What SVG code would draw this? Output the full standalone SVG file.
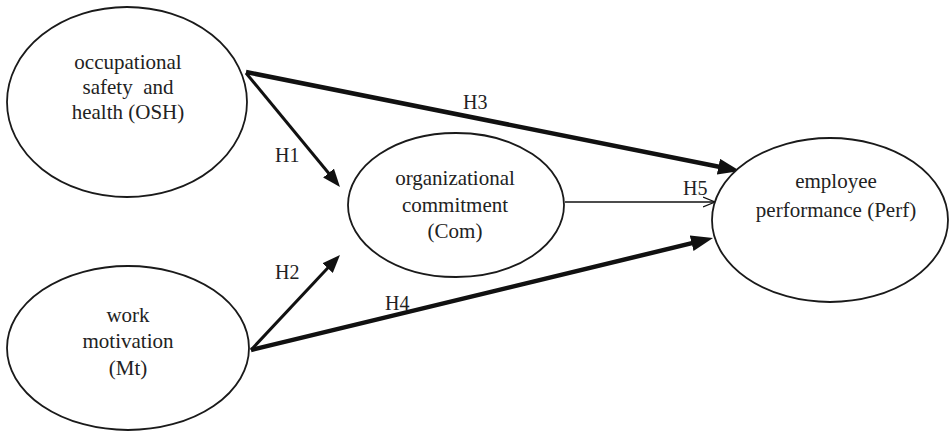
<svg xmlns="http://www.w3.org/2000/svg" width="950" height="432" viewBox="0 0 950 432">
<style>
.node{fill:#fff;stroke:#1a1a1a;stroke-width:1.8}
.t{font-family:'Liberation Serif','DejaVu Serif',serif;font-size:21px;fill:#222;text-anchor:middle}
.lbl{font-family:'Liberation Serif','DejaVu Serif',serif;font-size:20px;fill:#222}
.thick{stroke:#111;stroke-width:4.5;fill:none}
.mid{stroke:#111;stroke-width:3;fill:none}
.thin{stroke:#111;stroke-width:1.3;fill:none}
</style>
<defs>
<marker id="headL" markerUnits="userSpaceOnUse" markerWidth="22" markerHeight="16" refX="12" refY="8" orient="auto"><path d="M0,0 L22,8 L0,16 z" fill="#111"/></marker>
<marker id="headM" markerUnits="userSpaceOnUse" markerWidth="18" markerHeight="14" refX="10" refY="7" orient="auto"><path d="M0,0 L18,7 L0,14 z" fill="#111"/></marker>
<marker id="headO" markerUnits="userSpaceOnUse" markerWidth="14" markerHeight="12" refX="12" refY="6" orient="auto"><path d="M0,1 L12,6 L0,11" fill="none" stroke="#111" stroke-width="1.3"/></marker>
</defs>
<g id="connectors">
<line class="thick" x1="246" y1="72" x2="730.2" y2="169" marker-end="url(#headL)"/>
<line class="thick" x1="251" y1="350" x2="703.3" y2="240.4" marker-end="url(#headL)"/>
<line class="mid" x1="246" y1="73" x2="334.9" y2="180.8" marker-end="url(#headM)"/>
<line class="mid" x1="251" y1="350" x2="334.5" y2="260.8" marker-end="url(#headM)"/>
<line class="thin" x1="565" y1="202" x2="715" y2="202" marker-end="url(#headO)"/>
<text class="lbl" x="275" y="162">H1</text>
<text class="lbl" x="275" y="279">H2</text>
<text class="lbl" x="463" y="109">H3</text>
<text class="lbl" x="385" y="310">H4</text>
<text class="lbl" x="683" y="195">H5</text>
</g>
<g id="osh">
<ellipse class="node" cx="127" cy="102" rx="120" ry="95"/>
<text class="t" x="128" y="69">occupational</text>
<text class="t" x="128" y="94" xml:space="preserve">safety  and</text>
<text class="t" x="128" y="119">health (OSH)</text>
</g>
<g id="mt">
<ellipse class="node" cx="128" cy="348" rx="121" ry="82"/>
<text class="t" x="128" y="322">work</text>
<text class="t" x="128" y="348">motivation</text>
<text class="t" x="128" y="375">(Mt)</text>
</g>
<g id="com">
<ellipse class="node" cx="456" cy="205" rx="108" ry="72"/>
<text class="t" x="455" y="185">organizational</text>
<text class="t" x="455" y="212">commitment</text>
<text class="t" x="455" y="238">(Com)</text>
</g>
<g id="perf">
<ellipse class="node" cx="830" cy="220" rx="118" ry="82"/>
<text class="t" x="836" y="188">employee</text>
<text class="t" x="836" y="217">performance (Perf)</text>
</g>
</svg>
